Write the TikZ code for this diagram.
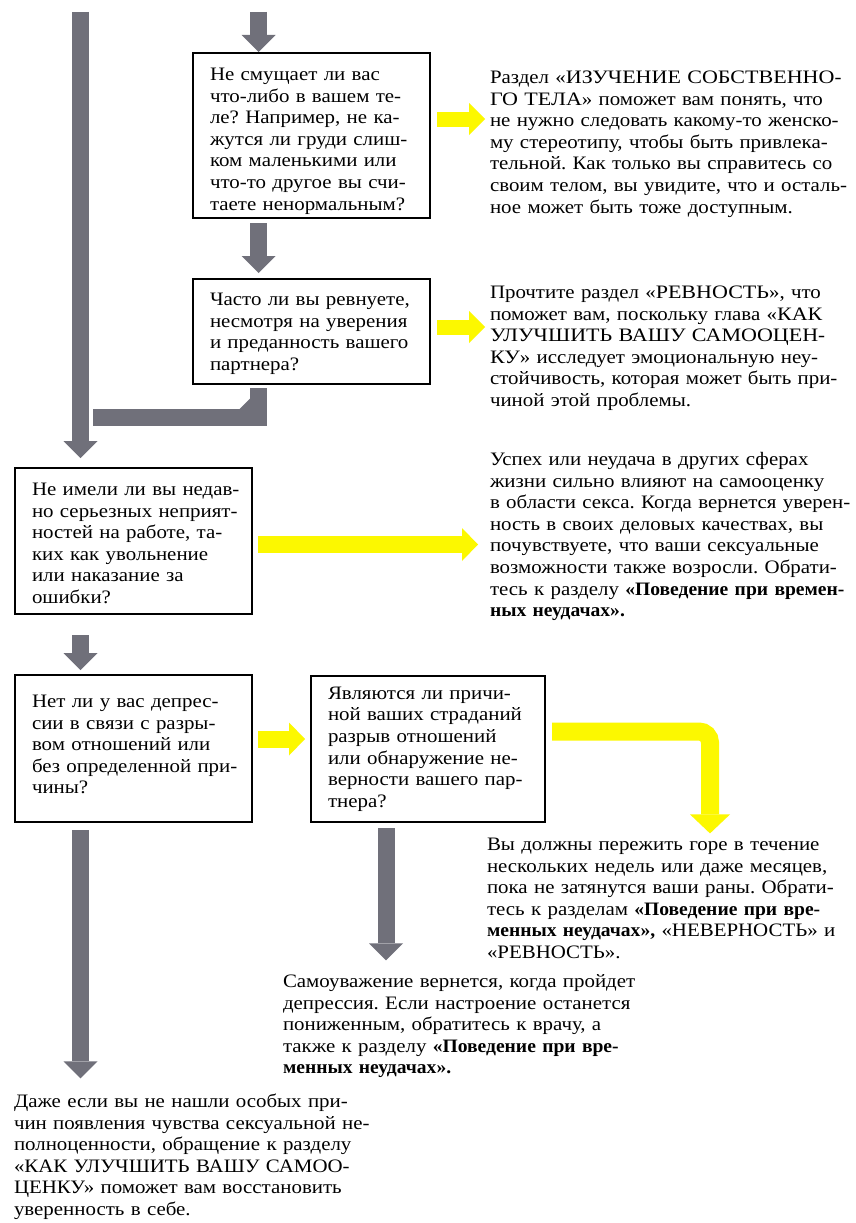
\documentclass[tikz,border=0pt]{standalone}
\usepackage{fontspec}
\usepackage{graphicx}
\setmainfont{Liberation Serif}[FakeStretch=1.10,BoldFeatures={FakeStretch=1.03}]
\usetikzlibrary{arrows.meta,calc}
\definecolor{gcol}{RGB}{112,112,122}
\definecolor{ycol}{RGB}{252,248,0}
\frenchspacing
\newcommand\txtf{\fontsize{19pt}{21.6pt}\selectfont}
\newcommand\bl[1]{\mbox{#1}\\}
\newcommand\myH[1]{\rule{0pt}{#1}}
\newcommand\myD[1]{\rule[-#1]{0pt}{#1}}
\newcommand\wc[1]{{\addfontfeature{FakeStretch=1.16}#1}}
\begin{document}
\begin{tikzpicture}[x=1pt,y=-1pt,
  qbox/.style={draw=black, line width=1.3pt, rectangle, anchor=north west,
    inner xsep=17pt, inner ysep=0pt, outer sep=0pt, align=left, font=\txtf},
  para/.style={anchor=north west, inner sep=0pt, outer sep=0pt, align=left,
    text width=380pt, font=\txtf},
  garr/.style={draw=gcol, line width=17pt,
    -{Triangle[length=17pt,width=34pt,line width=0pt]}},
  gline/.style={draw=gcol, line width=17pt, line join=miter},
  yarr/.style={draw=ycol, line width=15pt,
    -{Triangle[length=16pt,width=32pt,line width=0pt]}},
  ylong/.style={draw=ycol, line width=17pt,
    -{Triangle[length=16pt,width=33pt,line width=0pt]}},
  yelb/.style={draw=ycol, line width=18pt, rounded corners=11pt,
    -{Triangle[length=19pt,width=40pt,line width=0pt]}}
]
\useasboundingbox (0,0) rectangle (856,1223);
\fill[white] (0,0) rectangle (856,1223);

% question boxes
\node[qbox, minimum width=237pt, minimum height=165pt, text width=203pt] (b1) at (193,53)
 {\bl{\myH{26.1pt}Не смущает ли вас}\bl{что-либо в вашем те-}\bl{ле? Например, не ка-}\bl{жутся ли груди слиш-}\bl{ком маленькими или}\bl{что-то другое вы счи-}\mbox{таете ненормальным?\strut}};
\node[qbox, minimum width=237pt, minimum height=105pt, text width=203pt] (b2) at (193,279)
 {\bl{\myH{19.3pt}Часто ли вы ревнуете,}\bl{несмотря на уверения}\bl{и преданность вашего}\mbox{партнера?\strut}};
\node[qbox, minimum width=237pt, minimum height=146pt, text width=203pt] (b3) at (15,468)
 {\bl{\myH{23.5pt}Не имели ли вы недав-}\bl{но серьезных неприят-}\bl{ностей на работе, та-}\bl{ких как увольнение}\bl{или наказание за}\mbox{ошибки?\strut}};
\node[qbox, minimum width=237pt, minimum height=147pt, text width=203pt] (b4) at (15,675)
 {\bl{\strut Нет ли у вас депрес-}\bl{сии в связи с разры-}\bl{вом отношений или}\bl{без определенной при-}\mbox{чины?\myD{10.7pt}}};
\node[qbox, minimum width=234pt, minimum height=146pt, text width=200pt] (b5) at (311,676)
 {\bl{\strut Являются ли причи-}\bl{ной ваших страданий}\bl{разрыв отношений}\bl{или обнаружение не-}\bl{верности вашего пар-}\mbox{тнера?\strut}};

% answer paragraphs
\node[para] (t1) at (490,68.4)
 {\strut Раздел «\wc{ИЗУЧЕНИЕ СОБСТВЕННО}-\\\wc{ГО ТЕЛА}» поможет вам понять, что\\не нужно следовать какому-то женско-\\му стереотипу, чтобы быть привлека-\\тельной. Как только вы справитесь со\\своим телом, вы увидите, что и осталь-\\ное может быть тоже доступным.};
\node[para] (t2) at (490,283.4)
 {\strut Прочтите раздел «\wc{РЕВНОСТЬ}», что\\поможет вам, поскольку глава «\wc{КАК}\\\wc{УЛУЧШИТЬ ВАШУ САМООЦЕН}-\\\wc{КУ}» исследует эмоциональную неу-\\стойчивость, которая может быть при-\\чиной этой проблемы.};
\node[para] (t3) at (490,450.4)
 {\strut Успех или неудача в других сферах\\жизни сильно влияют на самооценку\\в области секса. Когда вернется уверен-\\ность в своих деловых качествах, вы\\почувствуете, что ваши сексуальные\\возможности также возросли. Обрати-\\тесь к разделу \textbf{«Поведение при времен-}\\\textbf{ных неудачах».}};
\node[para] (t4) at (487,835.4)
 {\strut Вы должны пережить горе в течение\\нескольких недель или даже месяцев,\\пока не затянутся ваши раны. Обрати-\\тесь к разделам \textbf{«Поведение при вре-}\\\textbf{менных неудачах»,} «НЕВЕРНОСТЬ» и\\«РЕВНОСТЬ».};
\node[para] (t5) at (283,972.4)
 {\strut Самоуважение вернется, когда пройдет\\депрессия. Если настроение останется\\пониженным, обратитесь к врачу, а\\также к разделу \textbf{«Поведение при вре-}\\\textbf{менных неудачах».}};
\node[para] (t6) at (14,1092.4)
 {\strut Даже если вы не нашли особых при-\\чин появления чувства сексуальной не-\\полноценности, обращение к разделу\\«КАК УЛУЧШИТЬ ВАШУ САМОО-\\ЦЕНКУ» поможет вам восстановить\\уверенность в себе.};

% gray connectors
\coordinate (s0) at (80.5,12);
\coordinate (s1) at (258.5,12);
\draw[garr] (s1) -- ($(b1.north west)+(65.5,-1)$);
\draw[garr] ($(b1.south west)+(65.5,5)$) -- ($(b2.north west)+(65.5,-6)$);
\draw[gline] ($(b2.south west)+(65.5,4)$) |- ($(b3.north west)+(78,-50.5)$);
\fill[gcol] ($(b2.south west)+(57.5,25.5)$) -- ($(b2.south west)+(46,25.5)$) -- ($(b2.south west)+(57.5,14)$) -- cycle;
\draw[garr] (s0) -- ($(b3.north west)+(65.5,-10)$);
\draw[garr] ($(b3.south west)+(65.5,21)$) -- ($(b4.north west)+(65.5,-5)$);
\draw[garr] ($(b4.south west)+(65.5,8)$) -- ($(t6.north west)+(66.5,-14)$);
\draw[garr] ($(b5.south west)+(75,6)$) -- ($(t5.north west)+(103,-12)$);

% yellow connectors
\draw[yarr] ($(b1.east)+(7,-16.5)$) -- ($(t1.west |- b1.east)+(-5,-16.5)$);
\draw[yarr] ($(b2.east)+(7,-4.5)$) -- ($(t2.west |- b2.east)+(-5,-4.5)$);
\draw[ylong] ($(b3.east)+(6,3.5)$) -- ($(t3.west |- b3.east)+(-12,3.5)$);
\draw[ylong] ($(b4.east)+(6,-9.5)$) -- ($(b5.west |- b4.east)+(-6,-9.5)$);
\draw[yelb] ($(b5.east)+(7,-17.5)$) -| ($(t4.north west)+(223,-2)$);
\end{tikzpicture}
\end{document}
